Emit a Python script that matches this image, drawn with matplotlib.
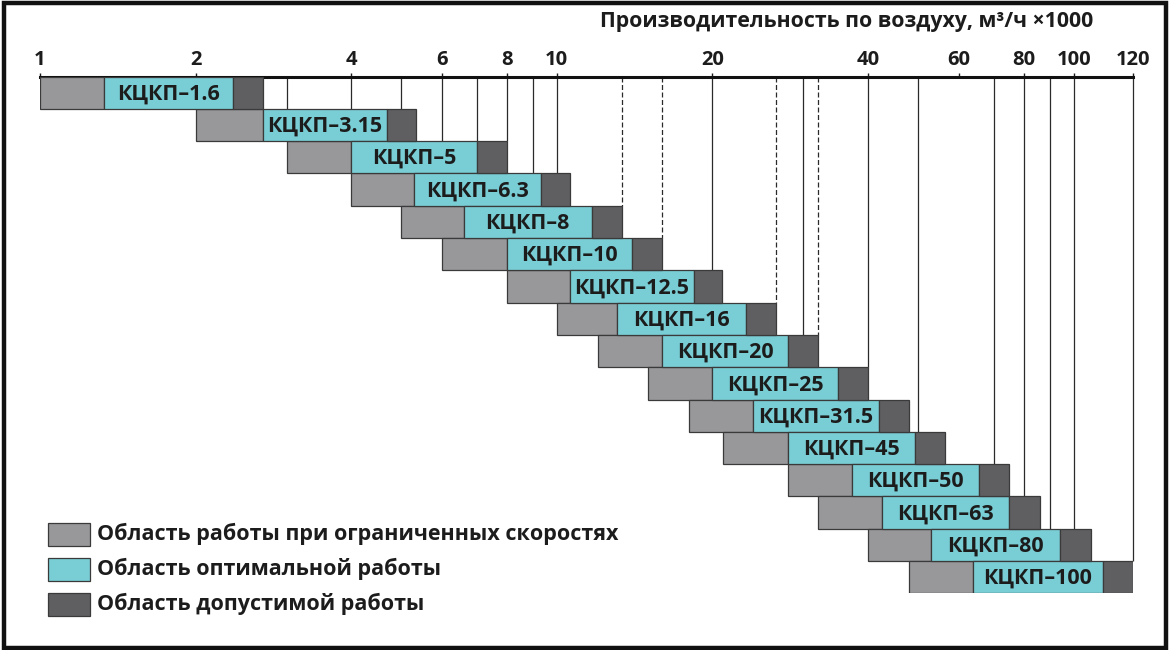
import numpy as np
import matplotlib
matplotlib.use('Agg')
import matplotlib.pyplot as plt
from matplotlib.patches import Rectangle
from matplotlib.ticker import NullLocator

# ---------------- data ----------------
models = ['КЦКП–1.6', 'КЦКП–3.15', 'КЦКП–5', 'КЦКП–6.3', 'КЦКП–8', 'КЦКП–10',
          'КЦКП–12.5', 'КЦКП–16', 'КЦКП–20', 'КЦКП–25', 'КЦКП–31.5', 'КЦКП–45',
          'КЦКП–50', 'КЦКП–63', 'КЦКП–80', 'КЦКП–100']
limited_start = [1.0, 2.0, 3.0, 4.0, 5.0, 6.0, 8.0, 10.0, 12.0, 15.0, 18.0, 21.0, 28.0, 32.0, 40.0, 48.0]
optimal_start = [1.33, 2.7, 4.0, 5.3, 6.6, 8.0, 10.6, 13.1, 16.0, 20.0, 24.0, 28.0, 37.2, 42.5, 53.0, 63.8]
allowed_start = [2.36, 4.7, 7.0, 9.3, 11.7, 14.0, 18.4, 23.2, 28.0, 35.0, 42.0, 49.3, 65.6, 75.0, 94.3, 110.0]
range_end = [2.7, 5.35, 8.0, 10.6, 13.35, 16.0, 20.9, 26.5, 32.0, 40.0, 48.0, 56.4, 75.0, 86.0, 106.0, 120.0]

tick_values = [1, 2, 4, 6, 8, 10, 20, 40, 60, 80, 100, 120]
tick_labels = ['1', '2', '4', '6', '8', '10', '20', '40', '60', '80', '100', '120']
solid_lines = [3, 4, 5, 6, 7, 8, 9, 10, 20, 30, 40, 50, 70, 80, 90, 100, 120]
dashed_lines = [13.35, 16, 26.5, 32]

legend_labels = ['Область работы при ограниченных скоростях',
                 'Область оптимальной работы',
                 'Область допустимой работы']
title = 'Производительность по воздуху, м³/ч ×1000'

# ---------------- style ----------------
C_LIM = '#98989b'
C_OPT = '#79cdd4'
C_ALW = '#5f5f62'
EDGE = '#3a3a3a'
TXT = '#1c1c1c'
FONT = ['Open Sans', 'DejaVu Sans']
plt.rcParams['font.family'] = FONT

W, H = 1170, 650
fig = plt.figure(figsize=(W / 100, H / 100), dpi=100)
fig.patch.set_facecolor('white')

ax = fig.add_axes([40 / W, 1 - 593.3 / H, 1093 / W, (593.3 - 76.5) / H])

K = 0.005747


def fwd(x):
    x = np.asarray(x, dtype=float)
    xs = np.clip(x, 1e-9, None)
    return np.where(x <= 100, np.log10(xs), 2 + (x - 100) * K)


def inv(y):
    y = np.asarray(y, dtype=float)
    return np.where(y <= 2, 10 ** np.minimum(y, 2), 100 + (y - 2) / K)


ax.set_xscale('function', functions=(fwd, inv))
ax.set_xlim(1, 120)
n = len(models)
ax.set_ylim(n, 0)

lim = np.array(limited_start)
opt = np.array(optimal_start)
alw = np.array(allowed_start)
end = np.array(range_end)
rows = np.arange(n) + 0.5

ax.barh(rows, opt - lim, left=lim, height=1.0, color=C_LIM, edgecolor=EDGE, linewidth=0.9, zorder=3)
ax.barh(rows, alw - opt, left=opt, height=1.0, color=C_OPT, edgecolor=EDGE, linewidth=0.9, zorder=3)
ax.barh(rows, end - alw, left=alw, height=1.0, color=C_ALW, edgecolor=EDGE, linewidth=0.9, zorder=3)

for i, name in enumerate(models):
    xc = float(inv((fwd(opt[i]) + fwd(alw[i])) / 2))
    ax.text(xc, rows[i] + 0.04, name, ha='center', va='center', fontsize=15.5,
            fontweight='bold', color=TXT, zorder=5)


def first_row(x):
    for i in range(n):
        if lim[i] * 0.995 <= x <= end[i] * 1.005:
            return i
    return n


for x in solid_lines:
    ax.vlines(x, 0, first_row(x), colors='#2a2a2a', linewidth=0.9, zorder=2,
              clip_on=False)
for x in dashed_lines:
    ax.vlines(x, 0, first_row(x), colors='#2a2a2a', linewidth=0.9,
              linestyles=(0, (4, 2)), zorder=2, clip_on=False)

ax.set_xticks(tick_values)
ax.set_xticklabels(tick_labels)
ax.xaxis.set_minor_locator(NullLocator())
ax.xaxis.set_ticks_position('top')
ax.tick_params(axis='x', direction='out', length=3, width=1, pad=1.5,
               labelsize=14.5, colors=TXT)
for lbl in ax.get_xticklabels():
    lbl.set_fontweight('bold')
ax.set_yticks([])
for s in ['left', 'right', 'bottom']:
    ax.spines[s].set_visible(False)
ax.spines['top'].set_linewidth(2.2)
ax.spines['top'].set_color('#111111')
ax.patch.set_alpha(0)

fig.text(1093 / W, 1 - 21 / H, title, ha='right', va='center', fontsize=15.3,
         fontweight='bold', color=TXT)

# legend
leg_colors = [C_LIM, C_OPT, C_ALW]
leg_y = [534, 569, 604]
for c, yc, lab in zip(leg_colors, leg_y, legend_labels):
    fig.add_artist(Rectangle((48 / W, 1 - (yc + 11.5) / H), 42 / W, 23 / H,
                             transform=fig.transFigure, facecolor=c,
                             edgecolor=EDGE, linewidth=0.9))
    fig.text(97 / W, 1 - yc / H, lab, ha='left', va='center', fontsize=15.5,
             fontweight='bold', color=TXT)

# outer frame
fig.add_artist(Rectangle((4 / W, 2.5 / H), (1165.5 - 4) / W, (647.5 - 2.5) / H,
                         transform=fig.transFigure, fill=False,
                         edgecolor='#111111', linewidth=3.2))

fig.savefig('out.png', dpi=100)
